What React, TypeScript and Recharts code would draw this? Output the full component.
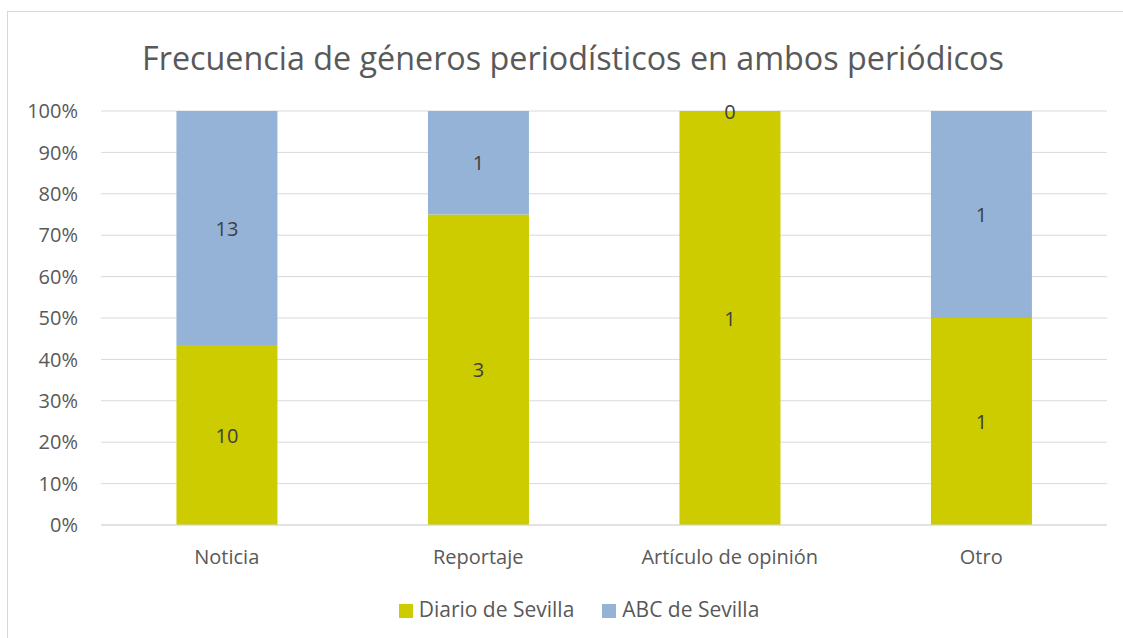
import React from 'react';
import { BarChart, Bar, XAxis, YAxis, CartesianGrid, Legend } from 'recharts';

const categories = ['Noticia', 'Reportaje', 'Artículo de opinión', 'Otro'];
const diarioValues = [10, 3, 1, 1];
const abcValues = [13, 1, 0, 1];
const yTicks = [0, 0.1, 0.2, 0.3, 0.4, 0.5, 0.6, 0.7, 0.8, 0.9, 1];

const data = categories.map((c, i) => ({ name: c, diario: diarioValues[i], abc: abcValues[i] }));

const FONT = '"Open Sans", sans-serif';
const TEXT = '#595959';
const SERIES_ORDER = ['Diario de Sevilla', 'ABC de Sevilla'];

const makeShape = (key: 'diario' | 'abc') => (props: any) => {
  const { x, y, width, height, fill, payload } = props;
  const cx = Number(x) + Number(width) / 2;
  const cy = Number(y) + Number(height) / 2;
  return (
    <g>
      {Number(height) > 0 && <rect x={x} y={y} width={width} height={height} fill={fill} />}
      <text x={cx} y={cy} textAnchor="middle" dominantBaseline="central" fill="#404040" fontSize={20} fontFamily={FONT}>
        {payload ? payload[key] : ''}
      </text>
    </g>
  );
};

export default function App() {
  return (
    <div style={{ position: 'absolute', left: 7, top: 11, width: 1115, height: 626, borderTop: '1px solid #d9d9d9', borderLeft: '1px solid #d9d9d9', background: '#fff', overflow: 'hidden' }}>
      <div style={{ position: 'absolute', left: 0, top: 23, width: 1130, textAlign: 'center', fontFamily: FONT, fontSize: 32.3, color: TEXT }}>
        Frecuencia de géneros periodísticos en ambos periódicos
      </div>
      <BarChart width={1115} height={626} data={data} stackOffset="expand" barCategoryGap="30%" margin={{ top: 99, right: 16, left: 33, bottom: 73 }}>
        <CartesianGrid vertical={false} stroke="#d9d9d9" strokeWidth={1} />
        <XAxis dataKey="name" axisLine={{ stroke: '#d9d9d9' }} tickLine={false} height={40} tickMargin={19} tick={{ fill: TEXT, fontSize: 20, fontFamily: FONT }} />
        <YAxis width={60} ticks={yTicks} domain={[0, 1]} axisLine={false} tickLine={false} tickMargin={17} tickFormatter={(v: number) => `${Math.round(v * 100)}%`} tick={{ fill: TEXT, fontSize: 20, fontFamily: FONT }} />
        <Legend layout="horizontal" verticalAlign="middle" align="center" iconType="square" iconSize={14}
          itemSorter={(item: any) => SERIES_ORDER.indexOf(item.value)}
          wrapperStyle={{ position: 'absolute', top: 583, left: 20, width: 1130, fontFamily: FONT, fontSize: 21 }}
          formatter={(value: string) => <span style={{ color: TEXT, marginLeft: 2, marginRight: 18 }}>{value}</span>} />
        <Bar dataKey="diario" name="Diario de Sevilla" stackId="a" fill="#CCCC00" isAnimationActive={false} shape={makeShape('diario')} />
        <Bar dataKey="abc" name="ABC de Sevilla" stackId="a" fill="#95B3D7" isAnimationActive={false} shape={makeShape('abc')} />
      </BarChart>
    </div>
  );
}
